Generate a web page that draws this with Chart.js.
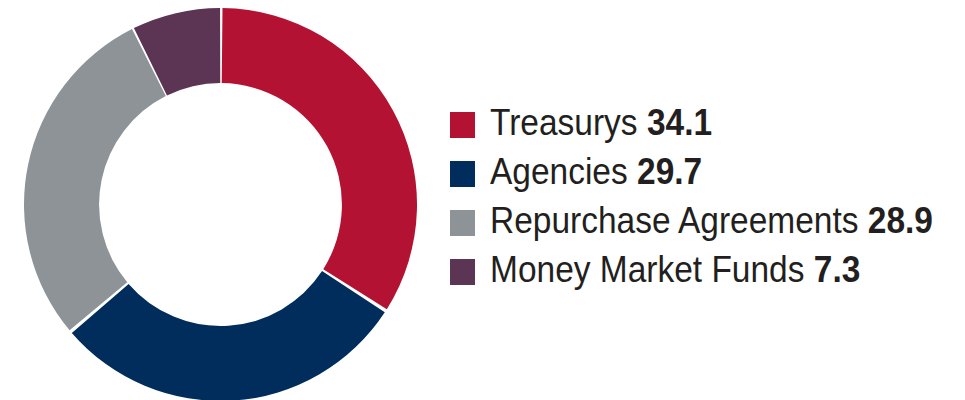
<!DOCTYPE html>
<html>
<head>
<meta charset="utf-8">
<script src="https://cdn.jsdelivr.net/npm/chart.js@4/dist/chart.umd.min.js"></script>
<style>
  html, body { margin: 0; padding: 0; background: #fff; }
  #wrap { position: relative; width: 965px; height: 400px; overflow: hidden; }
  #ring { position: absolute; left: 24px; top: 8px; width: 393px; height: 393px; }
  #legend { position: absolute; left: 450px; top: 0; font-family: "Liberation Sans", Arial, sans-serif; color: #231f20; }
  .row { position: absolute; left: 0; white-space: nowrap; }
  .sw { position: absolute; left: 0; width: 25px; height: 26px; }
  .txt { position: absolute; left: 40px; font-size: 36px; line-height: 36px; transform: scaleX(0.93); transform-origin: left top; }
  .txt b { font-weight: bold; }
</style>
</head>
<body>
<div id="wrap">
  <div id="ring"><canvas id="pie"></canvas></div>
  <div id="legend"></div>
</div>
<script>
const labels = ['Treasurys', 'Agencies', 'Repurchase Agreements', 'Money Market Funds'];
const values = [34.1, 29.7, 28.9, 7.3];
const colors = ['#b41233', '#002d5b', '#8e9398', '#5b3553'];

// legend rows: 49px apart, first square top at y=112
const legend = document.getElementById('legend');
labels.forEach((name, i) => {
  const row = document.createElement('div');
  row.className = 'row';
  row.style.top = (112 + i * 49) + 'px';
  row.innerHTML = '<span class="sw" style="background:' + colors[i] + '"></span>' +
    '<span class="txt" style="top:-7px">' + name + ' <b>' + values[i].toFixed(1) + '</b></span>';
  legend.appendChild(row);
});

new Chart(document.getElementById('pie'), {
  type: 'doughnut',
  data: {
    labels: labels,
    datasets: [{
      data: values,
      backgroundColor: colors,
      borderWidth: 0,
      spacing: 3
    }]
  },
  options: {
    responsive: true,
    maintainAspectRatio: false,
    animation: false,
    cutout: '61.5%',
    layout: { padding: 0 },
    plugins: { legend: { display: false }, tooltip: { enabled: false } }
  }
});
</script>
</body>
</html>
